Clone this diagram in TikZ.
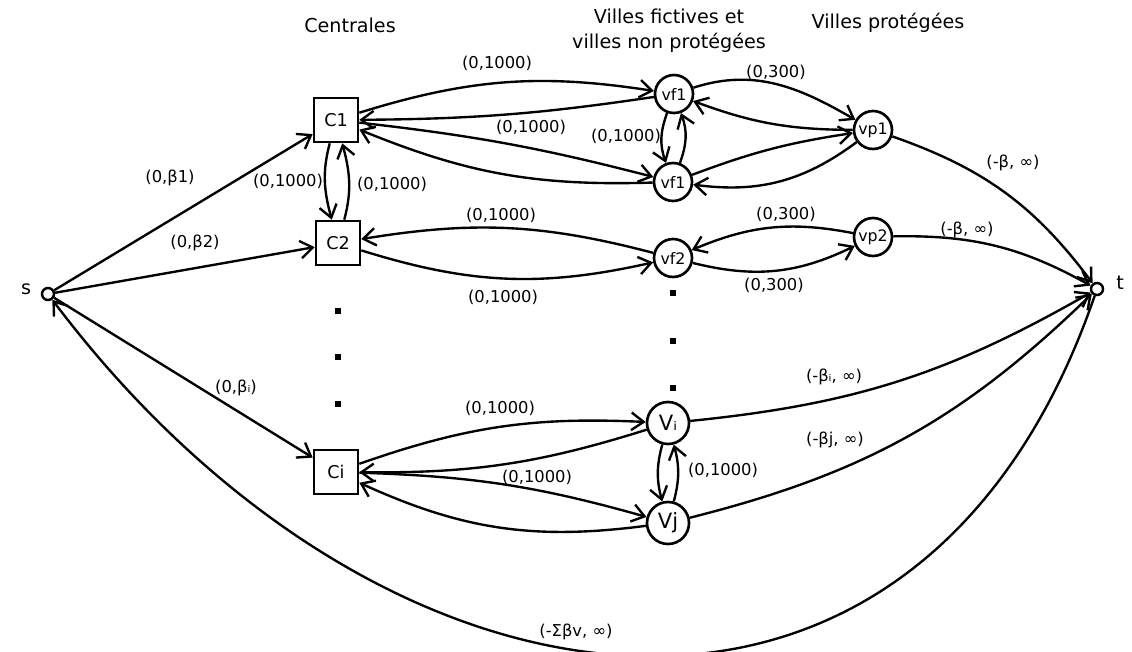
\documentclass[tikz,border=0pt]{standalone}
\usepackage{fontspec}
\setmainfont{DejaVu Sans}
\usetikzlibrary{arrows.meta}

\begin{document}
\begin{tikzpicture}[x=0.02cm, y=0.02cm,
    centrale/.style={rectangle, draw=black, line width=1.5pt, minimum size=0.88cm, inner sep=0pt, font=\fontsize{10}{12}\selectfont},
    ville/.style={circle, draw=black, line width=1.5pt, minimum size=0.76cm, inner sep=0pt, font=\fontsize{9}{11}\selectfont},
    grande/.style={ville, minimum size=0.84cm, font=\fontsize{12}{14}\selectfont},
    terminal/.style={circle, draw=black, fill=white, line width=1.4pt, minimum size=0.24cm, inner sep=0pt},
    flot/.style={line width=1.35pt, -{Straight Barb[length=7pt,width=10pt]}},
    cout/.style={font=\fontsize{9.3}{11}\selectfont},
    titre/.style={font=\fontsize{10.9}{14}\selectfont, align=center},
    suspens/.style={rectangle, fill=black, minimum size=0.12cm, inner sep=0pt}
]
\useasboundingbox (0,0) rectangle (1132,-652);

\node[titre] (tc) at (350,-25) {Centrales};
\node[titre] (tf) at (669,-31) {Villes fictives et\\villes non protégées};
\node[titre] (tp) at (888,-23) {Villes protégées};

\node[terminal] (s) at (48,-294) {};
\node[terminal] (t) at (1097,-289) {};
\node[titre] (ls) at (26,-289) {s};
\node[titre] (lt) at (1120,-283) {t};

\node[centrale] (C1) at (336,-120) {C1};
\node[centrale] (C2) at (338,-243) {C2};
\node[centrale] (Ci) at (336,-472) {Ci};

\node[ville] (vf1) at (674,-94) {vf1};
\node[ville] (vf1b) at (673,-182) {vf1};
\node[ville] (vp1) at (873,-130) {vp1};
\node[ville] (vf2) at (673,-258) {vf2};
\node[ville] (vp2) at (873,-237) {vp2};
\node[grande] (Vi) at (668,-423) {Vᵢ};
\node[grande] (Vj) at (668,-523) {Vj};

\foreach \y in {311,357,404}
    \node[suspens] (dc\y) at (338,-\y) {};
\foreach \y in {293,341,388}
    \node[suspens] (dv\y) at (673,-\y) {};

\draw[flot] (s) -- (C1);
\draw[flot] (s) -- (C2);
\draw[flot] (s) -- (Ci);
\draw[flot] (C1) to[out=-105,in=105] (C2);
\draw[flot] (C2) to[out=75,in=-75] (C1);

\draw[flot] (C1) to[bend left=13] (vf1);
\draw[flot] (vf1) to[bend left=4] (C1);
\draw[flot] (C1) to[bend left=4] (vf1b);
\draw[flot] (vf1b) to[bend left=12] (C1);
\draw[flot] (vf1) to[out=-110,in=110] (vf1b);
\draw[flot] (vf1b) to[out=70,in=-70] (vf1);
\draw[flot] (vf1) to[out=18,in=150] (vp1);
\draw[flot] (vp1) to[bend left=10] (vf1);
\draw[flot] (vf1b) to[bend left=6] (vp1);
\draw[flot] (vp1) to[bend left=22] (vf1b);

\draw[flot] (vf2) to[bend right=12] (C2);
\draw[flot] (C2) to[bend right=15] (vf2);
\draw[flot] (vp2) to[bend right=17] (vf2);
\draw[flot] (vf2) to[bend right=20] (vp2);

\draw[flot] (Ci) to[bend left=11] (Vi);
\draw[flot] (Vi) to[bend left=9] (Ci);
\draw[flot] (Ci) to[bend left=7] (Vj);
\draw[flot] (Vj) to[bend left=16] (Ci);
\draw[flot] (Vi) to[out=-105,in=105] (Vj);
\draw[flot] (Vj) to[out=75,in=-75] (Vi);

\draw[flot] (vp1) to[bend left=17] (t);
\draw[flot] (vp2) to[bend left=15] (t);
\draw[flot] (Vi) to[bend right=12] (t);
\draw[flot] (Vj) to[bend right=15] (t);
\draw[flot] (t) to[out=-109,in=-53,looseness=1.34] (s);

\node[cout] (k1) at (170,-178) {(0,β1)};
\node[cout] (k2) at (195,-243) {(0,β2)};
\node[cout] (k3) at (236,-388) {(0,βᵢ)};
\node[cout] (k4) at (288,-181) {(0,1000)};
\node[cout] (k5) at (392,-184) {(0,1000)};
\node[cout] (k6) at (497,-63) {(0,1000)};
\node[cout] (k7) at (531,-127) {(0,1000)};
\node[cout] (k8) at (626,-136) {(0,1000)};
\node[cout] (k9) at (776,-72) {(0,300)};
\node[cout] (k10) at (501,-215) {(0,1000)};
\node[cout] (k11) at (503,-297) {(0,1000)};
\node[cout] (k12) at (786,-214) {(0,300)};
\node[cout] (k13) at (774,-285) {(0,300)};
\node[cout] (k14) at (500,-408) {(0,1000)};
\node[cout] (k15) at (537,-477) {(0,1000)};
\node[cout] (k16) at (723,-470) {(0,1000)};
\node[cout] (k17) at (1013,-163) {(-β, ∞)};
\node[cout] (k18) at (967,-230) {(-β, ∞)};
\node[cout] (k19) at (834,-377) {(-βᵢ, ∞)};
\node[cout] (k20) at (835,-440) {(-βj, ∞)};
\node[cout] (k21) at (576,-632) {(-Σβv, ∞)};

\end{tikzpicture}
\end{document}
